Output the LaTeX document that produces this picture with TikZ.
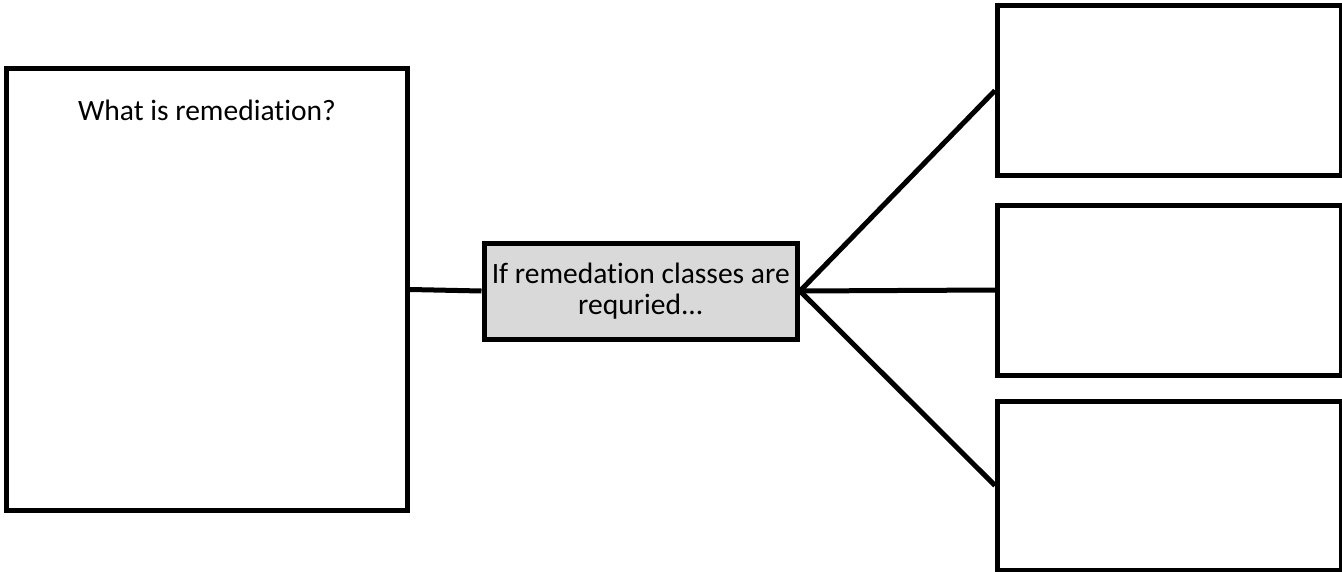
\documentclass[tikz,border=0pt]{standalone}
\usepackage{fontspec}
\setmainfont{Carlito}[Ligatures=NoCommon]
\usepackage{tikz}
\definecolor{boxgray}{HTML}{D9D9D9}

\begin{document}
\begin{tikzpicture}[scale=1,
	box/.style={draw=black,line width=0.1cm,inner sep=0,rectangle},
	link/.style={draw=black,line width=0.1cm},
	txt/.style={font=\fontsize{16.8}{18}\selectfont}]
	\useasboundingbox (0,0) rectangle (26.84,11.42);

	%cadre de gauche
	\node[box,minimum width=8.02cm,minimum height=8.82cm,
		label={[txt,anchor=north,inner sep=0,yshift=-0.66cm]north:What is remediation?}] (remed) at (4.14,5.63) {};

	%boite centrale
	\node[box,txt,fill=boxgray,minimum width=6.27cm,minimum height=1.92cm,align=center] (classes) at (12.815,5.6) {If remedation classes are\\requried...};

	%cadres de droite
	\node[box,minimum width=6.87cm,minimum height=3.4cm] (haut) at (23.385,9.61) {};
	\node[box,minimum width=6.87cm,minimum height=3.4cm] (milieu) at (23.385,5.62) {};
	\node[box,minimum width=6.87cm,minimum height=3.38cm] (bas) at (23.385,1.71) {};

	\draw[link] (remed.east) -- (classes.west);
	\draw[link] (classes.east) -- (haut.west);
	\draw[link] (classes.east) -- (milieu.west);
	\draw[link] (classes.east) -- (bas.west);
\end{tikzpicture}
\end{document}
